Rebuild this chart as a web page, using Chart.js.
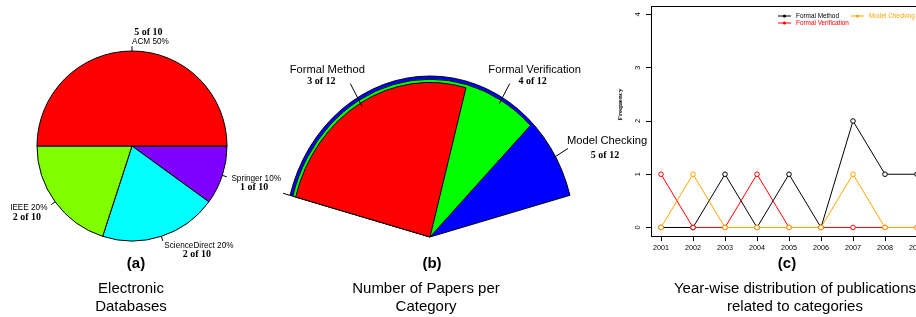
<!DOCTYPE html>
<html><head><meta charset="utf-8">
<script src="https://cdn.jsdelivr.net/npm/chart.js@4/dist/chart.umd.min.js"></script>
<style>
html,body{margin:0;padding:0;background:#fff;overflow:hidden;width:916px;height:317px;}
body{position:relative;font-family:"Liberation Sans",Arial,sans-serif;color:#000;}
canvas{position:absolute;}
.cap{position:absolute;text-align:center;font-size:15px;line-height:18px;white-space:nowrap;}
.tag{position:absolute;text-align:center;font-size:15px;font-weight:bold;line-height:18px;white-space:nowrap;}
</style></head><body>
<canvas id="pie" width="300" height="260" style="left:0;top:16px"></canvas>
<canvas id="fan0" width="460" height="200" style="left:200px;top:56px"></canvas>
<canvas id="fan1" width="460" height="200" style="left:200px;top:56px"></canvas>
<canvas id="fan2" width="460" height="200" style="left:200px;top:56px"></canvas>
<canvas id="years" width="340" height="262" style="left:600px;top:0"></canvas>

<div class="tag" style="left:86px;width:100px;top:254px">(a)</div>
<div class="cap" style="left:31px;width:200px;top:279px">Electronic<br>Databases</div>
<div class="tag" style="left:382px;width:100px;top:254px">(b)</div>
<div class="cap" style="left:326px;width:200px;top:279px">Number of Papers per<br>Category</div>
<div class="tag" style="left:737px;width:100px;top:254px">(c)</div>
<div class="cap" style="left:645px;width:300px;top:279px">Year-wise distribution of publications<br>related to categories</div>

<script>
// ---------- data ----------
const databases = ['ACM', 'IEEE', 'ScienceDirect', 'Springer'];
const databaseCounts = [5, 2, 2, 1];
const databaseColors = ['#FF0000', '#80FF00', '#00FFFF', '#8000FF'];

const categories = ['Formal Method', 'Formal Verification', 'Model Checking'];
const categoryCounts = [3, 4, 5];
const categoryColors = ['#FF0000', '#00FF00', '#0000FF'];

const years = [2001, 2002, 2003, 2004, 2005, 2006, 2007, 2008, 2009];
const formalMethodByYear       = [0, 0, 1, 0, 1, 0, 2, 1, 1];
const formalVerificationByYear = [1, 0, 0, 1, 0, 0, 0, 0, 0];
const modelCheckingByYear      = [0, 1, 0, 0, 0, 0, 1, 0, 0];
const frequencyTicks = [0, 1, 2, 3, 4];

// ---------- fonts ----------
const SANS = '"Liberation Sans", Arial, sans-serif';
const SERIF = '"Liberation Serif", "Times New Roman", serif';
const noUI = {legend: {display: false}, tooltip: {enabled: false}};

// ---------- (a) pie ----------
const dbTotal = databaseCounts.reduce((a, b) => a + b, 0);
const pieOrder = databases.map((_, i) => i).reverse(); // counter-clockwise from 3 o'clock

const pieLabels = {
  id: 'pieLabels',
  afterDatasetsDraw(chart) {
    const ctx = chart.ctx;
    const meta = chart.getDatasetMeta(0);
    const ds = chart.data.datasets[0];
    meta.data.forEach((arc, i) => {
      const cx = arc.x, cy = arc.y, r = arc.outerRadius;
      const mid = (arc.startAngle + arc.endAngle) / 2;
      const c = Math.cos(mid), s = Math.sin(mid);
      ctx.save();
      ctx.strokeStyle = '#000'; ctx.lineWidth = 1;
      ctx.beginPath();
      ctx.moveTo(cx + r * c, cy + r * s);
      ctx.lineTo(cx + 1.05 * r * c, cy + 1.05 * r * s);
      ctx.stroke();
      const tx = cx + 1.1 * r * c, ty = cy + 1.1 * r * s;
      const v = ds.data[i];
      const label = chart.data.labels[i] + ' ' + Math.round(v / dbTotal * 100) + '%';
      ctx.font = '8.2px ' + SANS;
      ctx.fillStyle = '#000';
      ctx.textBaseline = 'middle';
      const left = c < -1e-6;
      ctx.textAlign = left ? 'right' : 'left';
      ctx.fillText(label, tx, ty);
      const w = ctx.measureText(label).width;
      const mx = left ? tx - w / 2 : tx + w / 2;
      ctx.font = 'bold 10px ' + SERIF;
      ctx.textAlign = 'center';
      ctx.fillText(v + ' of ' + dbTotal, mx - 2, ty + (s < 0 ? -9.5 : 9.5));
      ctx.restore();
    });
  }
};

new Chart(document.getElementById('pie'), {
  type: 'pie',
  data: {
    labels: pieOrder.map(i => databases[i]),
    datasets: [{
      data: pieOrder.map(i => databaseCounts[i]),
      backgroundColor: pieOrder.map(i => databaseColors[i]),
      borderColor: '#000', borderWidth: 1
    }]
  },
  options: {
    responsive: false, animation: false, rotation: 90,
    layout: {padding: {left: 36.5, right: 72.5, top: 34.5, bottom: 34.5}},
    plugins: noUI
  },
  plugins: [pieLabels]
});

// ---------- (b) fan ----------
const FAN = {cx: 230, cy: 181, R: 161, squeeze: 0.9, shrink: 0.02, canvasH: 200};
const fanTotal = categoryCounts.reduce((a, b) => a + b, 0);
const fanOrder = categoryCounts.map((_, i) => i).sort((a, b) => categoryCounts[b] - categoryCounts[a]);
const fanMax = categoryCounts[fanOrder[0]];
const fanSpan = fanMax / fanTotal * 360;
const fanStart = 90 + fanSpan / 2; // left edge, degrees counter-clockwise from east
// label text offsets relative to the end of each leader line, by category
const fanLabelNudge = {
  text:  [[-23, -13.7], [25, -13.7], [39, -7.5]],
  count: [[-29, -2.7], [23, -2.7], [37, 6.5]]
};

const squeeze = {
  id: 'squeeze',
  beforeDatasetsDraw(chart) {
    const ctx = chart.ctx;
    const cx = (chart.chartArea.left + chart.chartArea.right) / 2;
    ctx.save();
    ctx.translate(cx, 0); ctx.scale(FAN.squeeze, 1); ctx.translate(-cx, 0);
  },
  afterDatasetsDraw(chart) { chart.ctx.restore(); }
};

const fanLabels = {
  id: 'fanLabels',
  afterDraw(chart) {
    const ctx = chart.ctx;
    const arc = chart.getDatasetMeta(0).data[0];
    const cx = arc.x, cy = arc.y;
    const pt = (deg, r) => {
      const a = deg * Math.PI / 180;
      return [cx + r * Math.cos(a) * FAN.squeeze, cy - r * Math.sin(a)];
    };
    ctx.save();
    ctx.strokeStyle = '#000'; ctx.lineWidth = 1; ctx.fillStyle = '#000';
    // tick on left edge
    let p = pt(fanStart, FAN.R), q = pt(fanStart, FAN.R * 1.05);
    ctx.beginPath(); ctx.moveTo(p[0], p[1]); ctx.lineTo(q[0], q[1]); ctx.stroke();
    fanOrder.forEach((ci, k) => {
      const span = categoryCounts[ci] / fanTotal * 360;
      const next = k + 1 < fanOrder.length ? categoryCounts[fanOrder[k + 1]] / fanTotal * 360 : 0;
      const a = fanStart - (span + next) / 2;
      const rk = FAN.R * (1 - FAN.shrink * k);
      const s = pt(a, rk - 4), e = pt(a, FAN.R * 1.1);
      ctx.beginPath(); ctx.moveTo(s[0], s[1]); ctx.lineTo(e[0], e[1]); ctx.stroke();
      ctx.textAlign = 'center'; ctx.textBaseline = 'middle';
      ctx.font = '11.2px ' + SANS;
      const tn = fanLabelNudge.text[ci], cn = fanLabelNudge.count[ci];
      ctx.fillText(categories[ci], e[0] + tn[0], e[1] + tn[1]);
      ctx.font = 'bold 10px ' + SERIF;
      ctx.fillText(categoryCounts[ci] + ' of ' + fanTotal, e[0] + cn[0], e[1] + cn[1]);
    });
    ctx.restore();
  }
};

fanOrder.forEach((ci, k) => {
  const r = FAN.R * (1 - FAN.shrink * k);
  const H = r + 10;
  const areaCenter = FAN.cy - 0.5 * r;
  const top = areaCenter - H / 2;
  const isTop = k === fanOrder.length - 1;
  new Chart(document.getElementById('fan' + k), {
    type: 'pie',
    data: {
      labels: [categories[ci], ''],
      datasets: [{
        data: [categoryCounts[ci], fanMax - categoryCounts[ci]],
        backgroundColor: [categoryColors[ci], 'rgba(0,0,0,0)'],
        borderColor: ['#000', 'rgba(0,0,0,0)'],
        borderWidth: [1, 0],
        clip: false
      }]
    },
    options: {
      responsive: false, animation: false,
      rotation: -fanSpan / 2, circumference: fanSpan, radius: r,
      layout: {padding: {left: 30, right: 30, top: top, bottom: FAN.canvasH - top - H}},
      plugins: noUI
    },
    plugins: isTop ? [squeeze, fanLabels] : [squeeze]
  });
});

// ---------- (c) year-wise lines ----------
const lineExtras = {
  id: 'lineExtras',
  afterDraw(chart) {
    const ctx = chart.ctx, a = chart.chartArea;
    ctx.save();
    ctx.strokeStyle = '#000'; ctx.lineWidth = 1;
    ctx.beginPath();
    const t = Math.round(a.top) + 0.5, r = Math.round(a.right) - 0.5;
    ctx.moveTo(Math.round(a.left), t); ctx.lineTo(r, t); ctx.lineTo(r, Math.round(a.bottom));
    ctx.stroke();
    // y tick labels (rotated, as in R)
    const ys = chart.scales.y;
    ctx.fillStyle = '#000';
    ctx.font = '7.4px ' + SANS;
    ctx.textAlign = 'center'; ctx.textBaseline = 'middle';
    frequencyTicks.forEach(v => {
      ctx.save();
      ctx.translate(a.left - 13, ys.getPixelForValue(v));
      ctx.rotate(-Math.PI / 2);
      ctx.fillText(String(v), 0, 0);
      ctx.restore();
    });
    // y title
    ctx.save();
    ctx.translate(20.5, 104.5);
    ctx.rotate(-Math.PI / 2);
    ctx.font = 'bold 7px ' + SERIF;
    ctx.fillText('Frequency', 0, 0);
    ctx.restore();
    // legend (two columns, as in R)
    const items = [
      {ds: 0, x: 178, y: 16}, {ds: 1, x: 178, y: 23}, {ds: 2, x: 251, y: 16}
    ];
    ctx.font = '6.4px ' + SANS;
    ctx.textAlign = 'left';
    items.forEach(it => {
      const d = chart.data.datasets[it.ds];
      ctx.strokeStyle = d.borderColor; ctx.fillStyle = d.borderColor;
      ctx.beginPath(); ctx.moveTo(it.x, it.y); ctx.lineTo(it.x + 13, it.y); ctx.stroke();
      ctx.beginPath(); ctx.arc(it.x + 6.5, it.y, 1.6, 0, Math.PI * 2); ctx.fill();
      ctx.fillText(d.label, it.x + 18, it.y);
    });
    ctx.restore();
  }
};

const seriesStyle = color => ({
  borderColor: color, pointBorderColor: color, pointBackgroundColor: '#fff',
  borderWidth: 1, pointRadius: 2.3, pointBorderWidth: 1, tension: 0, fill: false
});
const pts = arr => years.map((y, i) => ({x: y, y: arr[i]}));
const axisGrid = {drawOnChartArea: false, drawTicks: true, tickLength: 5, color: '#000', lineWidth: 1};

new Chart(document.getElementById('years'), {
  type: 'line',
  data: {
    datasets: [
      Object.assign({label: 'Formal Method', data: pts(formalMethodByYear), order: 2}, seriesStyle('#000000')),
      Object.assign({label: 'Formal Verification', data: pts(formalVerificationByYear), order: 1}, seriesStyle('#FF0000')),
      Object.assign({label: 'Model Checking', data: pts(modelCheckingByYear), order: 0}, seriesStyle('#FFA500'))
    ]
  },
  options: {
    responsive: false, animation: false,
    layout: {padding: {left: 0, right: 7, top: 6, bottom: 0}},
    plugins: noUI,
    scales: {
      x: {
        type: 'linear', min: 2000.6875, max: 2009.5,
        afterBuildTicks(s) { s.ticks = years.map(v => ({value: v})); },
        afterFit(s) { s.height = 26; },
        ticks: {autoSkip: false, maxRotation: 0, minRotation: 0, padding: 3, color: '#000',
                font: {size: 7.2, family: SANS}, callback: v => String(v)},
        grid: axisGrid, border: {display: true, color: '#000', width: 1}
      },
      y: {
        min: -0.16, max: 4.16,
        afterBuildTicks(s) { s.ticks = frequencyTicks.map(v => ({value: v})); },
        afterFit(s) { s.width = 51; },
        ticks: {display: false},
        grid: axisGrid, border: {display: true, color: '#000', width: 1}
      }
    }
  },
  plugins: [lineExtras]
});
</script>
</body></html>
